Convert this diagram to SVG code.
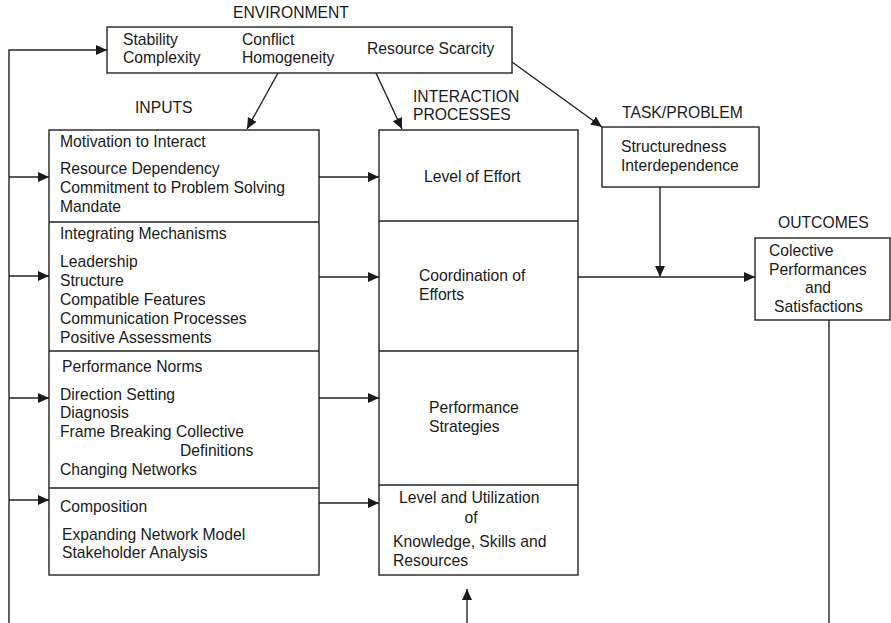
<svg xmlns="http://www.w3.org/2000/svg" width="891" height="623" viewBox="0 0 891 623">
  <style>
    .box { fill: #fff; stroke: #222; stroke-width: 1.4; }
    .div { stroke: #222; stroke-width: 1.6; }
    .ln { fill: none; stroke: #222; stroke-width: 1.4; }
    .arr { marker-end: url(#head); }
    text { font-family: "Liberation Sans", Arial, Helvetica, sans-serif; font-size: 15.7px; fill: #1a1a1a; }
    .mid { text-anchor: middle; }
  </style>
  <defs>
    <marker id="head" markerUnits="userSpaceOnUse" markerWidth="12" markerHeight="12" refX="11" refY="5" orient="auto">
      <path d="M0,0 L11,5 L0,10 z" fill="#1a1a1a"/>
    </marker>
  </defs>
  <rect width="891" height="623" fill="#fff"/>

  <!-- connectors -->
  <g id="connectors">
    <!-- feedback loop on the left -->
    <path class="ln arr" d="M9,623 L9,50 L107,50"/>
    <path class="ln arr" d="M9,177 L49,177"/>
    <path class="ln arr" d="M9,276 L49,276"/>
    <path class="ln arr" d="M9,398 L49,398"/>
    <path class="ln arr" d="M9,500 L49,500"/>
    <!-- environment outputs -->
    <path class="ln arr" d="M278,73 L247,129"/>
    <path class="ln arr" d="M376,73 L402,129"/>
    <path class="ln arr" d="M512,62 L602,127"/>
    <!-- inputs to processes -->
    <path class="ln arr" d="M319,177 L379,177"/>
    <path class="ln arr" d="M319,277 L379,277"/>
    <path class="ln arr" d="M319,398 L379,398"/>
    <path class="ln arr" d="M319,503 L379,503"/>
    <!-- processes to outcomes -->
    <path class="ln arr" d="M578,277 L755,277"/>
    <path class="ln arr" d="M660,187 L660,277"/>
    <!-- outcomes feedback and bottom return -->
    <path class="ln" d="M829,320 L829,623"/>
    <path class="ln arr" d="M467,623 L467,589"/>
  </g>

  <g id="environment">
    <text x="233" y="18">ENVIRONMENT</text>
    <rect class="box" x="107" y="27" width="405" height="46"/>
    <text x="123" y="45">Stability</text>
    <text x="123" y="63">Complexity</text>
    <text x="242" y="45">Conflict</text>
    <text x="242" y="63">Homogeneity</text>
    <text x="367" y="54">Resource Scarcity</text>
  </g>

  <g id="inputs">
    <text x="135" y="113">INPUTS</text>
    <rect class="box" x="49" y="130" width="270" height="445"/>
    <line class="div" x1="49" y1="222" x2="319" y2="222"/>
    <line class="div" x1="49" y1="351" x2="319" y2="351"/>
    <line class="div" x1="49" y1="488" x2="319" y2="488"/>
    <text x="60" y="147">Motivation to Interact</text>
    <text x="60" y="174">Resource Dependency</text>
    <text x="60" y="193">Commitment to Problem Solving</text>
    <text x="60" y="212">Mandate</text>
    <text x="60" y="239">Integrating Mechanisms</text>
    <text x="60" y="267">Leadership</text>
    <text x="60" y="286">Structure</text>
    <text x="60" y="305">Compatible Features</text>
    <text x="60" y="324">Communication Processes</text>
    <text x="60" y="343">Positive Assessments</text>
    <text x="62" y="372">Performance Norms</text>
    <text x="60" y="400">Direction Setting</text>
    <text x="60" y="418">Diagnosis</text>
    <text x="60" y="437">Frame Breaking Collective</text>
    <text x="180" y="456">Definitions</text>
    <text x="60" y="475">Changing Networks</text>
    <text x="60" y="512">Composition</text>
    <text x="62" y="540">Expanding Network Model</text>
    <text x="62" y="558">Stakeholder Analysis</text>
  </g>

  <g id="processes">
    <text x="413" y="102">INTERACTION</text>
    <text x="413" y="120">PROCESSES</text>
    <rect class="box" x="379" y="130" width="199" height="445"/>
    <line class="div" x1="379" y1="221" x2="578" y2="221"/>
    <line class="div" x1="379" y1="351" x2="578" y2="351"/>
    <line class="div" x1="379" y1="485" x2="578" y2="485"/>
    <text x="424" y="182">Level of Effort</text>
    <text x="419" y="281">Coordination of</text>
    <text x="419" y="300">Efforts</text>
    <text x="429" y="413">Performance</text>
    <text x="429" y="432">Strategies</text>
    <text x="399" y="503">Level and Utilization</text>
    <text x="471" y="523" class="mid">of</text>
    <text x="393" y="547">Knowledge, Skills and</text>
    <text x="393" y="566">Resources</text>
  </g>

  <g id="task">
    <text x="622" y="118">TASK/PROBLEM</text>
    <rect class="box" x="602" y="127" width="157" height="60"/>
    <text x="621" y="152">Structuredness</text>
    <text x="621" y="171">Interdependence</text>
  </g>

  <g id="outcomes">
    <text x="778" y="228">OUTCOMES</text>
    <rect class="box" x="755" y="238" width="135" height="82"/>
    <text x="769" y="256">Colective</text>
    <text x="769" y="275">Performances</text>
    <text x="818" y="293" class="mid">and</text>
    <text x="774" y="312">Satisfactions</text>
  </g>
</svg>
